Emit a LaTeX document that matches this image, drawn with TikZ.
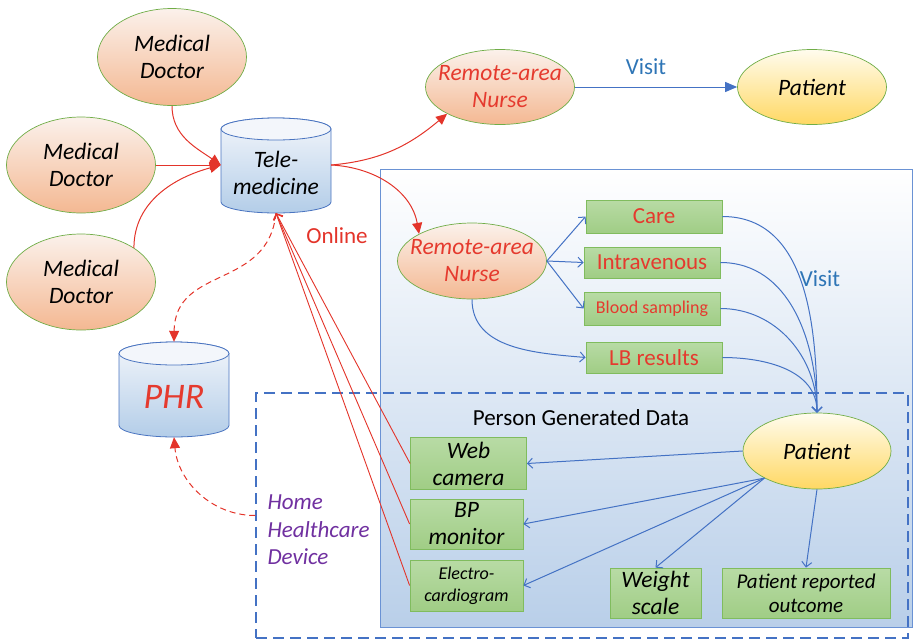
\documentclass[tikz,border=0pt]{standalone}
\usepackage{fontspec}
\setmainfont{Carlito}
\usetikzlibrary{shapes.geometric,arrows.meta}

\definecolor{edgegreen}{HTML}{70AD47}
\definecolor{peachtop}{HTML}{FBF1EB}
\definecolor{peachbot}{HTML}{F4B892}
\definecolor{goldtop}{HTML}{FFFCEE}
\definecolor{goldbot}{HTML}{FFD863}
\definecolor{boxtop}{HTML}{B8DBA5}
\definecolor{boxbot}{HTML}{A0CD85}
\definecolor{boxedge}{HTML}{80BC5E}
\definecolor{cyltop}{HTML}{F3F6FB}
\definecolor{cylbot}{HTML}{B3CDE8}
\definecolor{cyledge}{HTML}{4A74C0}
\definecolor{linkred}{HTML}{E3342A}
\definecolor{textred}{HTML}{E53A2E}
\definecolor{linkblue}{HTML}{4472C4}
\definecolor{visitblue}{HTML}{2E75B6}
\definecolor{purpletext}{HTML}{7030A0}
\definecolor{panelbot}{HTML}{B9CFE9}
\definecolor{paneledge}{HTML}{6A92D4}

\newcommand\fsz[2]{\fontsize{#1}{#2}\selectfont}

\begin{document}
\begin{tikzpicture}[x=1pt,y=-1pt,
  docell/.style={ellipse, draw=edgegreen, line width=0.7pt, top color=peachtop,
    bottom color=peachbot, inner sep=-22pt, align=center, font=\fsz{23.5}{27}\itshape},
  patell/.style={docell, top color=goldtop, bottom color=goldbot},
  gbox/.style={rectangle, draw=boxedge, line width=0.8pt, top color=boxtop,
    bottom color=boxbot, inner sep=0pt, align=center},
  redbox/.style={gbox, text=textred, font=\fsz{23}{26}},
  devbox/.style={gbox, font=\fsz{23.5}{27}\itshape},
  drumbody/.style={top color=cyltop, bottom color=cylbot, draw=cyledge, line width=0.8pt},
  redlink/.style={draw=linkred, line width=1pt},
  redhead/.style={-{Triangle[length=11pt,width=10pt]}},
  redopen/.style={draw=linkred, line width=0.9pt, -{Straight Barb[length=5pt,width=10pt]}},
  redtrace/.style={redlink, dash pattern=on 6pt off 4pt},
  bluelink/.style={draw=linkblue, line width=1pt, -{Straight Barb[length=5pt,width=10pt]}},
  caption/.style={font=\fsz{23}{26}},
]
\useasboundingbox (0,0) rectangle (914,641);

% shaded field panel and the dashed home-device frame
\node[draw=paneledge, line width=0.8pt, top color=white, bottom color=panelbot,
  minimum width=532pt, minimum height=458pt, inner sep=0pt] (panel) at (646,398) {};
\node[draw=linkblue, line width=1.5pt, dash pattern=on 11pt off 6pt,
  minimum width=652pt, minimum height=245pt, inner sep=0pt] (homebox) at (582,515.5) {};

% Tele-medicine drum
\shade[drumbody] (221,129) -- (221,202) arc[start angle=180, end angle=0, x radius=55, y radius=11]
  -- (331,129) arc[start angle=0, end angle=-180, x radius=55, y radius=11] -- cycle;
\draw[fill=cyltop, draw=cyledge, line width=0.8pt] (276,129) ellipse[x radius=55, y radius=11];
\node[inner sep=0pt, minimum width=110pt, minimum height=96pt] (tele) at (276,165) {};
\node[font=\fsz{23.5}{27}\itshape, align=center] (teletext) at (276,173) {Tele-\\medicine};

% PHR drum
\shade[drumbody] (119,353.5) -- (119,425.5) arc[start angle=180, end angle=0, x radius=55, y radius=11.5]
  -- (229,353.5) arc[start angle=0, end angle=-180, x radius=55, y radius=11.5] -- cycle;
\draw[fill=cyltop, draw=cyledge, line width=0.8pt] (174,353.5) ellipse[x radius=55, y radius=11.5];
\node[inner sep=0pt, minimum width=110pt, minimum height=95pt] (phr) at (174,389.5) {};
\node[font=\fsz{36}{40}\itshape, text=textred] (phrtext) at (174,397) {PHR};

% people
\node[docell, minimum width=149pt, minimum height=97pt] (md1) at (172,57) {Medical\\Doctor};
\node[docell, minimum width=149pt, minimum height=96pt] (md2) at (81,165) {Medical\\Doctor};
\node[docell, minimum width=149pt, minimum height=96pt] (md3) at (81,282) {Medical\\Doctor};
\node[docell, text=textred, minimum width=149pt, minimum height=75pt] (nurse1) at (500,87) {Remote-area\\Nurse};
\node[patell, minimum width=149pt, minimum height=75pt] (patient1) at (812,87) {Patient};
\node[docell, text=textred, minimum width=149pt, minimum height=76pt] (nurse2) at (472,261) {Remote-area\\Nurse};
\node[patell, minimum width=148pt, minimum height=76pt] (patient2) at (817,451) {Patient};

% nursing tasks
\node[redbox, minimum width=136pt, minimum height=33pt] (care) at (654,216.5) {Care};
\node[redbox, minimum width=136pt, minimum height=31pt] (iv) at (652,262.5) {Intravenous};
\node[redbox, font=\fsz{18}{20}, minimum width=136pt, minimum height=33pt] (blood) at (652,308.5) {Blood sampling};
\node[redbox, minimum width=136pt, minimum height=31pt] (lb) at (654,357.5) {LB results};

% home devices
\node[devbox, minimum width=116pt, minimum height=52pt] (webcam) at (468.5,463.5) {Web\\camera};
\node[devbox, minimum width=113pt, minimum height=50pt] (bp) at (466.5,524) {BP\\monitor};
\node[devbox, font=\fsz{18}{22}\itshape, minimum width=113pt, minimum height=51pt] (ecg) at (466.5,585.5) {Electro-\\cardiogram};
\node[devbox, minimum width=91pt, minimum height=50pt] (weight) at (655.5,593) {Weight\\scale};
\node[devbox, font=\fsz{21}{24}\itshape, minimum width=168pt, minimum height=50pt] (pro) at (806,593) {Patient reported\\outcome};

% captions
\node[caption, text=visitblue] (visit1) at (646,67) {Visit};
\node[caption, text=visitblue] (visit2) at (820,279) {Visit};
\node[caption, text=linkred] (online) at (337,236) {Online};
\node[caption] (pgd) at (581,418) {Person Generated Data};
\node[font=\fsz{23}{27.5}\itshape, text=purpletext, align=left, anchor=west] (hhd) at (264,530) {Home\\Healthcare\\Device};

% doctors to tele-medicine
\draw[redlink, redhead] (md1.south) to[out=-90, in=145] (tele.west);
\draw[redlink, redhead] (md2.east) -- (tele.west);
\draw[redlink, redhead] (md3.north east) to[out=90, in=195] (tele.west);

% tele-medicine to nurses
\draw[redlink, redhead] (tele.east) to[out=5, in=220] (nurse1.south west);
\draw[redlink, redhead] (tele.east) to[out=-3, in=100] (nurse2.north west);

% nurse visit
\draw[draw=linkblue, line width=1pt, -{Triangle[length=12pt,width=10pt]}] (nurse1.east) -- (patient1.west);

% nurse tasks
\draw[bluelink] (nurse2.east) -- (care.west);
\draw[bluelink] (nurse2.east) -- (iv.west);
\draw[bluelink] (nurse2.east) -- (blood.west);
\draw[bluelink] (nurse2.south) to[out=-90, in=175] (lb.west);

% tasks to patient
\draw[bluelink] (care.east) to[out=0, in=90] (patient2.north);
\draw[bluelink] (iv.east) to[out=0, in=90] (patient2.north);
\draw[bluelink] (blood.east) to[out=0, in=90] (patient2.north);
\draw[bluelink] (lb.east) to[out=0, in=90] (patient2.north);

% patient to devices
\draw[bluelink] (patient2.west) -- (webcam.east);
\draw[bluelink] (patient2.south west) -- (bp.east);
\draw[bluelink] (patient2.south west) -- (ecg.east);
\draw[bluelink] (patient2.south west) -- (weight.north);
\draw[bluelink] (patient2.south) -- (pro.north);

% devices online to tele-medicine
\draw[redopen] (webcam.west) -- (tele.south);
\draw[redopen] (bp.west) -- (tele.south);
\draw[redopen] (ecg.west) -- (tele.south);

% records
\draw[redtrace, redhead] (tele.south) .. controls (268,290) and (175,265) .. (phr.north);
\draw[redtrace, redhead] (homebox.west) to[out=180, in=-85] (phr.south);
\end{tikzpicture}
\end{document}
